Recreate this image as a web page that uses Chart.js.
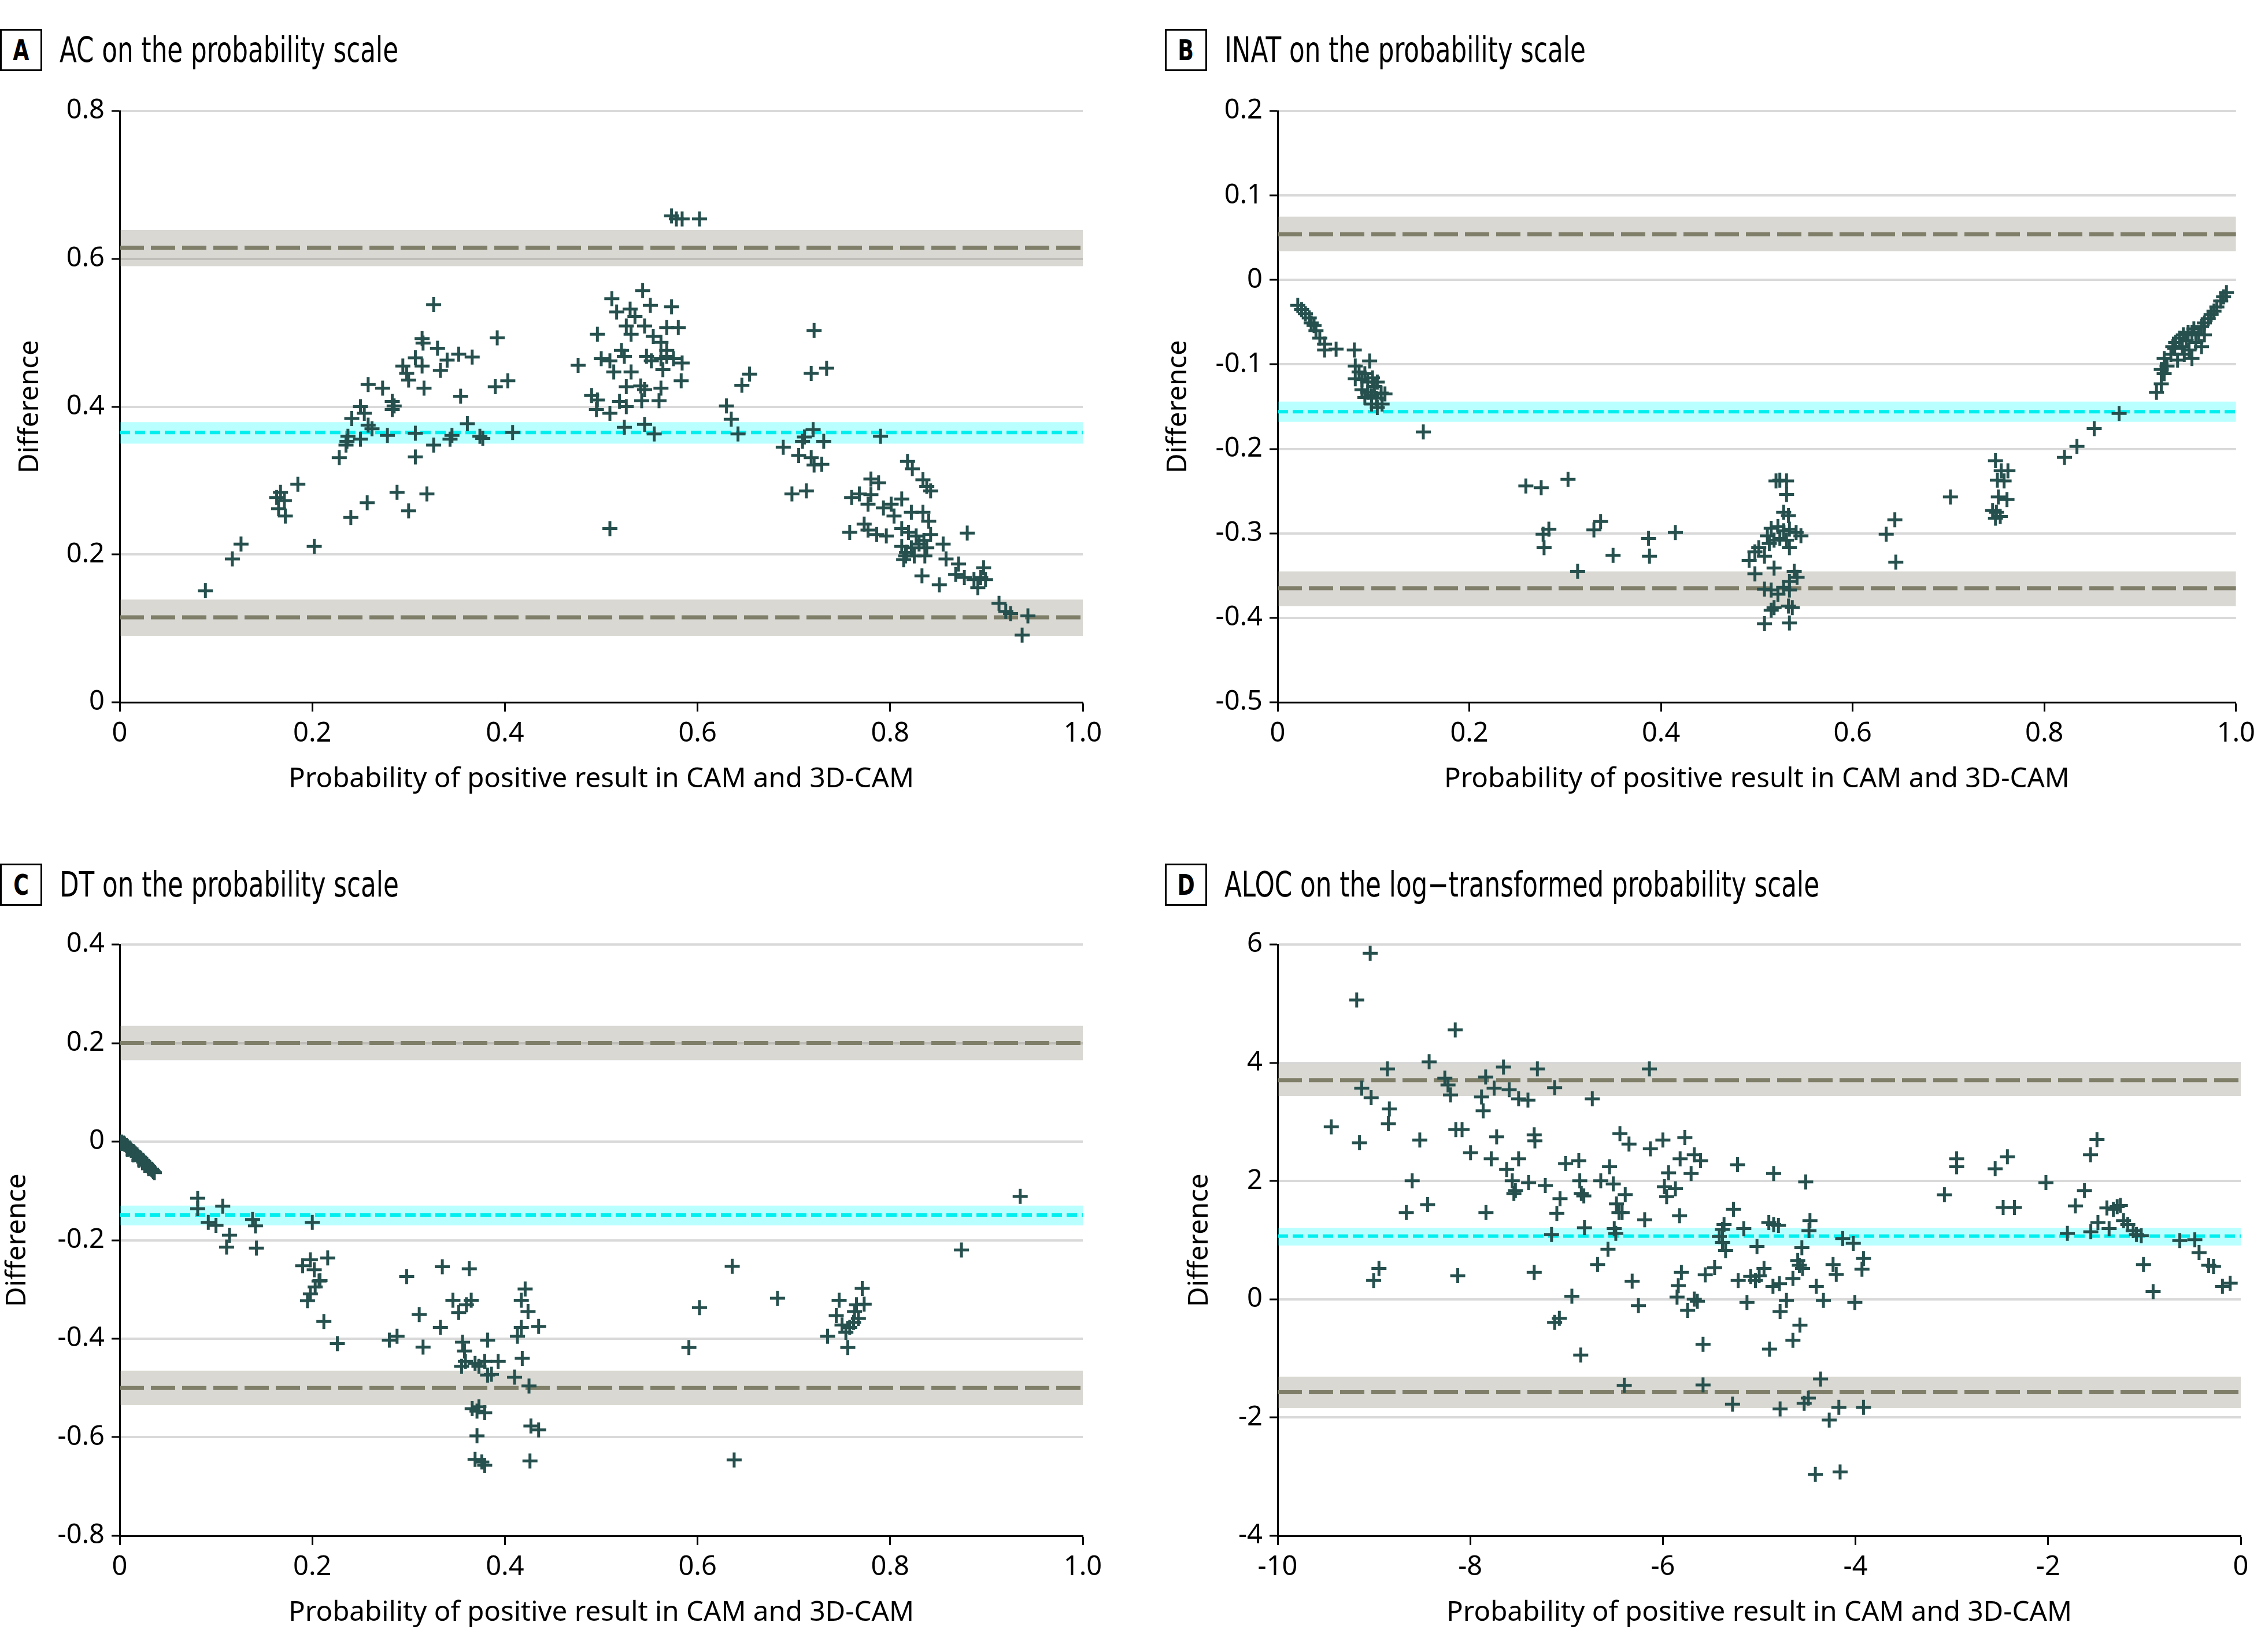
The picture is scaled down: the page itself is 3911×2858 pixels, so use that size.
<!DOCTYPE html>
<html><head><meta charset="utf-8">
<script src="https://cdn.jsdelivr.net/npm/chart.js@4.4.1/dist/chart.umd.min.js"></script>
<style>
html,body{margin:0;padding:0;background:#fff;}
body{width:3911px;height:2858px;overflow:hidden;position:relative;}
.cv{position:absolute;}
.ttl{position:absolute;height:73px;}
.box{position:absolute;left:0;top:0;width:73px;height:73px;box-sizing:border-box;border:3px solid #000;display:flex;align-items:center;justify-content:center;font-family:'Liberation Sans Narrow','DejaVu Sans Condensed','Noto Sans',sans-serif;font-weight:bold;font-size:50px;color:#000;}
.box span{display:inline-block;}
.txt{position:absolute;left:103px;top:3px;white-space:nowrap;font-family:'Liberation Sans Narrow','DejaVu Sans Condensed','Noto Sans',sans-serif;font-size:60px;line-height:66px;color:#000;transform-origin:0 0;}
</style>
</head><body>
<div class="ttl" style="left:0;top:50px"><div class="box"><span>A</span></div><div class="txt" id="tA">AC on the probability scale</div></div>
<div class="ttl" style="left:2015px;top:50px"><div class="box"><span>B</span></div><div class="txt">INAT on the probability scale</div></div>
<div class="ttl" style="left:0;top:1494px"><div class="box"><span>C</span></div><div class="txt">DT on the probability scale</div></div>
<div class="ttl" style="left:2015px;top:1494px"><div class="box"><span>D</span></div><div class="txt">ALOC on the log−transformed probability scale</div></div>
<canvas id="cA" class="cv" style="left:0;top:130px" width="1955" height="1285"></canvas>
<canvas id="cB" class="cv" style="left:2003px;top:130px" width="1908" height="1285"></canvas>
<canvas id="cC" class="cv" style="left:0;top:1572px" width="1955" height="1285"></canvas>
<canvas id="cD" class="cv" style="left:2003px;top:1572px" width="1908" height="1285"></canvas>
<script>
// ---------- data ----------
const X_TITLE = 'Probability of positive result in CAM and 3D-CAM';
const Y_TITLE = 'Difference';

const A_XTICKS = [0, 0.2, 0.4, 0.6, 0.8, 1.0];
const A_XLABELS = ['0', '0.2', '0.4', '0.6', '0.8', '1.0'];
const A_YTICKS = [0, 0.2, 0.4, 0.6, 0.8];
const A_YLABELS = ['0', '0.2', '0.4', '0.6', '0.8'];
const A_MEAN = [0.365, 0.350, 0.379];   // line, band low, band high
const A_UPPER = [0.615, 0.590, 0.639];
const A_LOWER = [0.115, 0.090, 0.139];
const A_POINTS = [[0.089,0.151],[0.117,0.194],[0.126,0.214],[0.202,0.211],[0.163,0.277],[0.167,0.284],[0.171,0.273],[0.165,0.262],[0.172,0.252],[0.185,0.295],[0.228,0.331],[0.240,0.250],[0.257,0.270],[0.288,0.284],[0.300,0.259],[0.319,0.282],[0.236,0.353],[0.237,0.360],[0.235,0.348],[0.250,0.356],[0.241,0.384],[0.250,0.400],[0.254,0.391],[0.258,0.375],[0.262,0.370],[0.258,0.430],[0.273,0.425],[0.278,0.361],[0.283,0.407],[0.285,0.401],[0.283,0.396],[0.294,0.455],[0.298,0.445],[0.300,0.436],[0.307,0.466],[0.314,0.492],[0.315,0.486],[0.314,0.455],[0.316,0.425],[0.307,0.364],[0.307,0.332],[0.326,0.538],[0.330,0.479],[0.333,0.449],[0.340,0.463],[0.352,0.471],[0.366,0.467],[0.354,0.414],[0.326,0.348],[0.345,0.361],[0.343,0.356],[0.361,0.377],[0.374,0.360],[0.377,0.357],[0.392,0.493],[0.390,0.427],[0.403,0.435],[0.408,0.365],
[0.476,0.456],[0.496,0.498],[0.511,0.546],[0.516,0.528],[0.530,0.532],[0.543,0.557],[0.551,0.537],[0.573,0.535],[0.535,0.522],[0.526,0.509],[0.545,0.509],[0.531,0.498],[0.568,0.507],[0.580,0.507],[0.554,0.495],[0.562,0.487],[0.568,0.476],[0.500,0.465],[0.509,0.462],[0.521,0.476],[0.524,0.468],[0.547,0.468],[0.552,0.462],[0.562,0.465],[0.568,0.468],[0.575,0.465],[0.584,0.459],[0.513,0.447],[0.531,0.447],[0.564,0.450],[0.583,0.435],[0.526,0.427],[0.541,0.428],[0.545,0.423],[0.562,0.425],[0.490,0.415],[0.496,0.409],[0.519,0.407],[0.542,0.408],[0.560,0.408],[0.495,0.396],[0.509,0.391],[0.526,0.400],[0.524,0.372],[0.545,0.376],[0.555,0.363],[0.509,0.235],[0.573,0.658],[0.578,0.654],[0.584,0.654],[0.602,0.654],
[0.630,0.401],[0.635,0.383],[0.642,0.363],[0.646,0.429],[0.654,0.444],[0.721,0.503],[0.718,0.445],[0.734,0.452],[0.720,0.369],[0.711,0.359],[0.709,0.353],[0.731,0.353],[0.689,0.345],[0.705,0.334],[0.718,0.331],[0.721,0.321],[0.729,0.322],[0.698,0.282],[0.713,0.286],[0.790,0.360],[0.818,0.326],[0.823,0.316],[0.834,0.301],[0.838,0.292],[0.842,0.286],[0.780,0.302],[0.788,0.297],[0.760,0.277],[0.768,0.282],[0.780,0.281],[0.777,0.268],[0.793,0.263],[0.801,0.268],[0.812,0.275],[0.804,0.252],[0.822,0.257],[0.834,0.257],[0.840,0.245],[0.758,0.230],[0.773,0.241],[0.777,0.233],[0.786,0.227],[0.796,0.225],[0.812,0.235],[0.819,0.230],[0.827,0.225],[0.835,0.219],[0.842,0.227],[0.812,0.211],[0.817,0.203],[0.822,0.209],[0.830,0.214],[0.838,0.209],[0.855,0.214],[0.814,0.193],[0.825,0.198],[0.836,0.198],[0.816,0.198],[0.858,0.194],[0.880,0.229],[0.833,0.171],[0.851,0.159],[0.871,0.187],[0.868,0.173],[0.877,0.169],[0.887,0.166],[0.897,0.182],[0.894,0.169],[0.899,0.166],[0.891,0.155],[0.913,0.134],[0.920,0.123],[0.925,0.120],[0.943,0.117],[0.937,0.091]];

const B_XTICKS = [0, 0.2, 0.4, 0.6, 0.8, 1.0];
const B_XLABELS = ['0', '0.2', '0.4', '0.6', '0.8', '1.0'];
const B_YTICKS = [-0.5, -0.4, -0.3, -0.2, -0.1, 0, 0.1, 0.2];
const B_YLABELS = ['-0.5', '-0.4', '-0.3', '-0.2', '-0.1', '0', '0.1', '0.2'];
const B_MEAN = [-0.156, -0.168, -0.144];
const B_UPPER = [0.054, 0.034, 0.075];
const B_LOWER = [-0.365, -0.386, -0.345];
const B_POINTS = [[0.021,-0.030],[0.025,-0.035],[0.029,-0.040],[0.033,-0.045],[0.035,-0.051],[0.038,-0.054],[0.040,-0.060],[0.044,-0.069],[0.049,-0.076],[0.049,-0.083],[0.061,-0.082],[0.080,-0.083],[0.096,-0.096],[0.081,-0.102],[0.085,-0.109],[0.081,-0.117],[0.088,-0.118],[0.091,-0.111],[0.094,-0.121],[0.099,-0.116],[0.101,-0.126],[0.104,-0.121],[0.088,-0.130],[0.094,-0.133],[0.098,-0.137],[0.103,-0.140],[0.108,-0.134],[0.112,-0.135],[0.098,-0.147],[0.104,-0.151],[0.109,-0.147],[0.091,-0.139],[0.152,-0.180],
[0.259,-0.244],[0.275,-0.246],[0.303,-0.236],[0.277,-0.301],[0.283,-0.295],[0.278,-0.317],[0.313,-0.345],[0.330,-0.296],[0.337,-0.286],[0.350,-0.326],[0.387,-0.306],[0.388,-0.327],[0.415,-0.299],
[0.520,-0.238],[0.524,-0.237],[0.531,-0.238],[0.531,-0.254],[0.528,-0.275],[0.533,-0.279],[0.515,-0.294],[0.522,-0.292],[0.528,-0.297],[0.534,-0.295],[0.541,-0.299],[0.546,-0.303],[0.511,-0.303],[0.518,-0.308],[0.524,-0.306],[0.531,-0.308],[0.513,-0.312],[0.534,-0.317],[0.492,-0.332],[0.498,-0.322],[0.502,-0.317],[0.508,-0.327],[0.518,-0.341],[0.498,-0.348],[0.539,-0.345],[0.542,-0.352],[0.534,-0.357],[0.508,-0.366],[0.515,-0.367],[0.528,-0.364],[0.534,-0.367],[0.522,-0.372],[0.515,-0.391],[0.518,-0.388],[0.537,-0.388],[0.533,-0.386],[0.508,-0.407],[0.534,-0.406],
[0.635,-0.301],[0.644,-0.284],[0.645,-0.334],[0.702,-0.257],
[0.749,-0.214],[0.755,-0.226],[0.762,-0.226],[0.751,-0.237],[0.758,-0.238],[0.752,-0.257],[0.761,-0.260],[0.746,-0.273],[0.750,-0.275],[0.754,-0.280],[0.749,-0.282],
[0.821,-0.210],[0.834,-0.197],[0.852,-0.176],[0.878,-0.158],[0.917,-0.133],[0.922,-0.123],[0.925,-0.111],[0.922,-0.106],[0.928,-0.102],[0.925,-0.093],[0.932,-0.088],[0.936,-0.081],[0.937,-0.074],[0.941,-0.069],[0.945,-0.065],[0.948,-0.072],[0.951,-0.083],[0.954,-0.093],[0.958,-0.074],[0.961,-0.065],[0.964,-0.079],[0.939,-0.095],[0.946,-0.088],[0.954,-0.062],[0.964,-0.055],[0.967,-0.051],[0.971,-0.046],[0.974,-0.041],[0.977,-0.037],[0.980,-0.032],[0.984,-0.025],[0.987,-0.020],[0.990,-0.015],[0.956,-0.058],[0.950,-0.062],[0.967,-0.065],[0.944,-0.079],[0.934,-0.079]];

const C_XTICKS = [0, 0.2, 0.4, 0.6, 0.8, 1.0];
const C_XLABELS = ['0', '0.2', '0.4', '0.6', '0.8', '1.0'];
const C_YTICKS = [-0.8, -0.6, -0.4, -0.2, 0, 0.2, 0.4];
const C_YLABELS = ['-0.8', '-0.6', '-0.4', '-0.2', '0', '0.2', '0.4'];
const C_MEAN = [-0.149, -0.170, -0.130];
const C_UPPER = [0.200, 0.165, 0.235];
const C_LOWER = [-0.500, -0.535, -0.465];
const C_POINTS = [[0.002,-0.001],[0.004,-0.003],[0.005,-0.005],[0.007,-0.008],[0.008,-0.010],[0.010,-0.013],[0.011,-0.015],[0.012,-0.018],[0.014,-0.020],[0.015,-0.022],[0.016,-0.025],[0.018,-0.027],[0.019,-0.030],[0.021,-0.033],[0.022,-0.035],[0.024,-0.038],[0.025,-0.041],[0.027,-0.044],[0.028,-0.047],[0.030,-0.050],[0.031,-0.053],[0.033,-0.056],[0.034,-0.058],[0.035,-0.061],[0.030,-0.055],[0.026,-0.048],[0.020,-0.038],[0.014,-0.027],[0.008,-0.016],[0.036,-0.063],
[0.081,-0.115],[0.081,-0.136],[0.107,-0.131],[0.092,-0.164],[0.100,-0.170],[0.114,-0.190],[0.111,-0.214],[0.138,-0.158],[0.141,-0.171],[0.142,-0.216],[0.200,-0.164],[0.190,-0.252],[0.198,-0.240],[0.216,-0.236],[0.202,-0.260],[0.207,-0.283],[0.208,-0.282],[0.203,-0.295],[0.198,-0.309],[0.195,-0.323],[0.212,-0.365],[0.226,-0.410],
[0.298,-0.274],[0.335,-0.254],[0.363,-0.258],[0.311,-0.351],[0.333,-0.377],[0.280,-0.403],[0.288,-0.395],[0.315,-0.417],[0.346,-0.322],[0.365,-0.322],[0.360,-0.331],[0.352,-0.347],[0.356,-0.407],[0.382,-0.403],[0.358,-0.425],[0.359,-0.446],[0.369,-0.450],[0.379,-0.446],[0.393,-0.446],[0.355,-0.456],[0.373,-0.456],[0.382,-0.474],[0.386,-0.472],[0.410,-0.478],[0.421,-0.299],[0.417,-0.322],[0.424,-0.345],[0.417,-0.377],[0.413,-0.395],[0.435,-0.375],[0.418,-0.440],[0.425,-0.496],[0.366,-0.542],[0.371,-0.547],[0.379,-0.550],[0.373,-0.538],[0.371,-0.597],[0.369,-0.645],[0.376,-0.650],[0.379,-0.657],[0.427,-0.577],[0.435,-0.585],[0.426,-0.648],
[0.591,-0.418],[0.602,-0.337],[0.636,-0.253],[0.638,-0.646],[0.683,-0.318],[0.735,-0.395],[0.747,-0.322],[0.744,-0.353],[0.750,-0.372],[0.754,-0.387],[0.758,-0.377],[0.762,-0.367],[0.763,-0.345],[0.765,-0.331],[0.771,-0.298],[0.773,-0.330],[0.767,-0.359],[0.756,-0.418],[0.874,-0.220],[0.935,-0.111]];

const D_XTICKS = [-10, -8, -6, -4, -2, 0];
const D_XLABELS = ['-10', '-8', '-6', '-4', '-2', '0'];
const D_YTICKS = [-4, -2, 0, 2, 4, 6];
const D_YLABELS = ['-4', '-2', '0', '2', '4', '6'];
const D_MEAN = [1.068, 0.91, 1.21];
const D_UPPER = [3.706, 3.44, 3.98];
const D_LOWER = [-1.571, -1.84, -1.31];
const D_POINTS = [[-9.039,5.852],[-9.179,5.062],[-9.443,2.916],[-9.150,2.646],[-9.127,3.571],[-9.029,3.409],[-8.860,3.895],[-8.840,3.220],[-8.850,2.970],[-9.003,0.318],[-8.948,0.521],[-8.664,1.466],[-8.603,2.005],[-8.524,2.694],[-8.443,1.600],[-8.427,4.016],[-8.264,3.740],[-8.231,3.625],[-8.205,3.456],[-8.156,4.556],[-8.150,2.869],[-8.085,2.869],[-8.130,0.399],[-7.997,2.478],[-7.866,3.186],[-7.840,3.760],[-7.883,3.422],[-7.837,1.466],[-7.782,2.377],[-7.752,3.571],[-7.726,2.748],[-7.655,3.928],[-7.622,2.194],[-7.596,3.544],[-7.564,2.005],[-7.547,1.789],[-7.531,1.837],[-7.498,2.377],[-7.498,3.389],[-7.401,3.368],[-7.394,1.972],[-7.336,2.782],[-7.329,2.680],[-7.303,3.895],[-7.336,0.454],[-7.221,1.924],[-7.124,3.578],[-7.156,1.095],[-7.101,1.452],[-7.068,1.702],[-7.124,-0.390],[-7.075,-0.323],[-7.010,2.296],[-6.945,0.052],[-6.873,2.343],[-6.863,2.005],[-6.847,1.789],[-6.821,1.749],[-6.814,1.209],[-6.853,-0.943],[-6.733,3.389],[-6.678,0.588],[-6.645,2.005],[-6.570,0.845],[-6.554,2.242],[-6.515,1.951],[-6.505,1.196],[-6.489,1.115],[-6.482,1.614],[-6.456,1.466],[-6.423,1.466],[-6.391,1.769],[-6.446,2.802],[-6.352,2.626],[-6.401,-1.456],[-6.319,0.305],[-6.254,-0.107],[-6.189,1.344],[-6.140,3.895],[-6.130,2.545],[-6.000,2.694],[-5.941,2.140],[-5.961,1.736],[-5.984,1.904],[-5.870,1.870],[-5.821,2.377],[-5.827,1.412],[-5.772,2.734],[-5.707,2.127],[-5.674,2.444],[-5.609,2.343],[-5.853,0.036],[-5.808,0.454],[-5.840,0.231],[-5.743,-0.188],[-5.674,0.002],[-5.642,-0.033],[-5.583,-0.761],[-5.583,-1.449],[-5.560,0.413],[-5.463,0.535],[-5.414,1.061],[-5.381,1.182],[-5.365,1.263],[-5.381,0.960],[-5.349,0.825],[-5.267,1.520],[-5.225,2.275],[-5.160,1.196],[-5.218,0.318],[-5.127,-0.053],[-5.277,-1.773],[-5.088,0.386],[-5.023,0.892],[-5.039,0.318],
[-4.850,2.127],[-4.517,1.985],[-4.900,1.297],[-4.850,1.263],[-4.800,1.250],[-4.473,1.331],[-4.483,1.162],[-4.557,0.872],[-4.950,0.521],[-5.000,0.399],[-4.600,0.656],[-4.583,0.575],[-4.550,0.521],[-4.650,0.352],[-4.790,0.264],[-4.857,0.217],[-4.407,0.217],[-4.233,0.588],[-4.200,0.420],[-4.133,1.027],[-4.023,0.946],[-3.917,0.690],[-3.933,0.508],[-4.007,-0.053],[-4.717,-0.020],[-4.783,-0.208],[-4.333,-0.020],[-4.577,-0.437],[-4.650,-0.694],[-4.893,-0.842],[-4.363,-1.348],[-4.490,-1.672],[-4.533,-1.760],[-4.783,-1.854],[-4.173,-1.827],[-4.273,-2.043],[-3.917,-1.827],[-4.417,-2.961],[-4.160,-2.920],
[-3.077,1.768],[-2.950,2.377],[-2.950,2.242],[-2.550,2.208],[-2.423,2.410],[-2.467,1.553],[-2.350,1.553],[-2.023,1.972],[-1.717,1.580],[-1.623,1.837],[-1.560,2.444],[-1.493,2.700],[-1.800,1.115],[-1.557,1.142],[-1.483,1.297],[-1.390,1.546],[-1.323,1.520],[-1.283,1.567],[-1.250,1.587],[-1.367,1.196],[-1.217,1.331],[-1.173,1.263],[-1.117,1.162],[-1.083,1.095],[-1.033,1.075],[-1.010,0.588],[-0.910,0.129],[-0.633,0.993],[-0.477,1.007],[-0.433,0.791],[-0.333,0.575],[-0.283,0.555],[-0.190,0.217],[-0.110,0.271]];

// ---------- styles ----------
const POINT_COLOR = '#26504e';
const LOA_COLOR = '#7f7e68';
const LOA_BAND = 'rgba(128,127,106,0.30)';
const MEAN_COLOR = '#00eeee';
const MEAN_BAND = 'rgba(0,255,255,0.27)';
const FONT = "'Noto Sans', 'Open Sans', sans-serif";

function hLine(xt, v, color, width, dash) {
  return { type: 'line', data: [{x: xt[0], y: v}, {x: xt[xt.length - 1], y: v}],
    borderColor: color, borderWidth: width, borderDash: dash, pointRadius: 0, fill: false, tension: 0 };
}
function band(xt, lo, hi, color) {
  return { type: 'line', data: [{x: xt[0], y: hi}, {x: xt[xt.length - 1], y: hi}],
    borderWidth: 0, borderColor: 'rgba(0,0,0,0)', pointRadius: 0, backgroundColor: color, fill: {value: lo}, tension: 0 };
}

function makeChart(id, xt, xl, yt, yl, pts, mean, upper, lower, yTitleOff) {
  const datasets = [
    { type: 'scatter', data: pts.map(p => ({x: p[0], y: p[1]})), pointStyle: 'cross', pointRadius: 13,
      pointBorderWidth: 5, borderColor: POINT_COLOR, backgroundColor: POINT_COLOR, pointHoverRadius: 13 },
    hLine(xt, mean[0], MEAN_COLOR, 6, [18, 8]),
    hLine(xt, upper[0], LOA_COLOR, 7, [42, 12]),
    hLine(xt, lower[0], LOA_COLOR, 7, [42, 12]),
    band(xt, mean[1], mean[2], MEAN_BAND),
    band(xt, upper[1], upper[2], LOA_BAND),
    band(xt, lower[1], lower[2], LOA_BAND)
  ];
  const canvas = document.getElementById(id);
  const rightPad = canvas.width - 207 - 1666;
  return new Chart(canvas, {
    data: { datasets },
    options: {
      responsive: false, animation: false, events: [],
      layout: { padding: { left: 0, top: 62, right: rightPad, bottom: 0 } },
      plugins: { legend: { display: false }, tooltip: { enabled: false }, title: { display: false } },
      scales: {
        x: { type: 'linear', position: 'bottom', min: xt[0], max: xt[xt.length - 1],
          afterBuildTicks: s => { s.ticks = xt.map(v => ({ value: v })); },
          afterFit: s => { s.height = 200; },
          ticks: { callback: (v, i) => xl[i], font: { family: FONT, size: 47 }, color: '#000', padding: 10, maxRotation: 0, autoSkip: false },
          grid: { drawOnChartArea: false, drawTicks: true, tickLength: 16, tickColor: '#000', tickWidth: 3 },
          border: { display: true, color: '#000', width: 3 },
          title: { display: true, text: X_TITLE, font: { family: FONT, size: 47.5 }, color: '#000', padding: { top: 0, bottom: 38 } } },
        y: { type: 'linear', position: 'left', min: yt[0], max: yt[yt.length - 1],
          afterBuildTicks: s => { s.ticks = yt.map(v => ({ value: v })); },
          afterFit: s => { s.width = 207; },
          ticks: { callback: (v, i) => yl[i], font: { family: FONT, size: 47 }, color: '#000', padding: 12, autoSkip: false },
          grid: { color: '#d9d9d9', lineWidth: 4, drawTicks: true, tickLength: 14, tickColor: '#000', tickWidth: 3 },
          border: { display: true, color: '#000', width: 3 },
          title: { display: true, text: Y_TITLE, font: { family: FONT, size: 47.5 }, color: '#000', padding: { top: yTitleOff - 28.5, bottom: 0 } } }
      }
    }
  });
}

function fitTitles() {
  const a = document.getElementById('tA');
  const w = a.getBoundingClientRect().width;
  const s = 586 / w;
  document.querySelectorAll('.txt').forEach(e => { e.style.transform = 'scaleX(' + s + ')'; });
  document.querySelectorAll('.box span').forEach(e => { e.style.transform = 'scaleX(' + Math.min(1, s) + ')'; });
}

function build() {
  fitTitles();
  makeChart('cA', A_XTICKS, A_XLABELS, A_YTICKS, A_YLABELS, A_POINTS, A_MEAN, A_UPPER, A_LOWER, 52);
  makeChart('cB', B_XTICKS, B_XLABELS, B_YTICKS, B_YLABELS, B_POINTS, B_MEAN, B_UPPER, B_LOWER, 35);
  makeChart('cC', C_XTICKS, C_XLABELS, C_YTICKS, C_YLABELS, C_POINTS, C_MEAN, C_UPPER, C_LOWER, 30);
  makeChart('cD', D_XTICKS, D_XLABELS, D_YTICKS, D_YLABELS, D_POINTS, D_MEAN, D_UPPER, D_LOWER, 72);
}
if (document.fonts && document.fonts.ready) { document.fonts.ready.then(build); } else { build(); }
</script>
</body></html>
